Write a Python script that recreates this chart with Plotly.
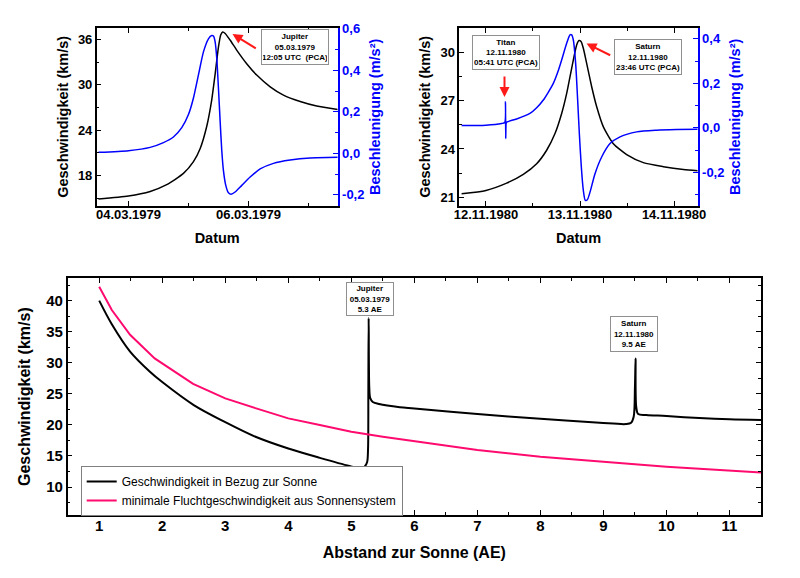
import plotly.graph_objects as go
import pandas as pd

W, H = 800, 578
FONT = "Liberation Sans, Arial, sans-serif"
BLUE = "#0000FF"
PINK = "#FF0A6E"
RED = "#FF1A1A"

# ---------------- Jupiter flyby (hours after 1979-03-04 00:00 UTC) ----------------
jup_ref = "1979-03-04 00:00"
jup_v_hours = [-12.0, 0.0, 8.7, 15.3, 22.0, 26.0, 28.7, 31.3, 33.3, 34.7, 36.0, 36.9, 37.7,
               38.7, 40.7, 43.3, 47.3, 51.3, 56.7, 62.0, 68.7, 75.3, 83.7]
jup_speed = [14.92, 15.3, 15.9, 16.8, 18.3, 19.85, 21.6, 24.5, 28.0, 31.5, 35.0, 36.6, 37.0,
             36.8, 35.9, 34.6, 32.8, 31.3, 29.75, 28.65, 27.8, 27.2, 26.75]
jup_a_hours = [-12.0, 0.0, 8.67, 14.0, 18.0, 21.33, 24.0, 26.0, 28.0, 30.0, 32.0, 33.33, 34.0,
               34.67, 35.33, 36.0, 36.67, 37.33, 38.0, 38.93, 40.0, 41.07, 42.67, 45.33, 48.67,
               52.67, 58.0, 64.67, 72.67, 83.73]
jup_accel = [0.005, 0.013, 0.029, 0.052, 0.079, 0.124, 0.187, 0.267, 0.378, 0.489, 0.552, 0.568,
             0.565, 0.537, 0.457, 0.314, 0.156, 0.013, -0.083, -0.154, -0.19, -0.197, -0.186,
             -0.154, -0.114, -0.075, -0.048, -0.032, -0.022, -0.019]

# ---------------- Saturn flyby (hours after 1980-11-12 00:00 UTC) ----------------
sat_ref = "1980-11-12 00:00"
sat_v_hours = [-6.21, 0.0, 5.28, 9.53, 12.94, 15.49, 17.62, 19.32, 20.6, 21.62, 22.47, 23.15,
               23.74, 24.26, 24.85, 25.7, 26.98, 28.26, 29.96, 32.51, 35.91, 40.17, 45.28,
               50.38, 54.04]
sat_speed = [21.21, 21.42, 21.875, 22.42, 23.08, 23.92, 24.96, 26.21, 27.46, 28.71, 29.75,
             30.48, 30.75, 30.69, 30.27, 29.33, 27.875, 26.625, 25.375, 24.33, 23.65, 23.15,
             22.9, 22.72, 22.64]
sat_a_hours = [-6.21, 0.0, 4.0, 4.8, 4.98, 5.05, 5.13, 5.22, 5.4, 7.83, 11.23, 12.94, 14.64,
               15.9, 17.19, 18.47, 19.32, 20.6, 21.45, 21.87, 22.3, 22.89, 23.4, 23.83, 24.34,
               24.85, 25.36, 25.87, 26.55, 27.83, 29.53, 31.66, 34.21, 38.47, 43.57, 48.68,
               54.04]
sat_accel = [0.0105, 0.012, 0.0195, 0.024, 0.117, -0.048, 0.018, 0.024, 0.027, 0.04, 0.0647,
             0.09, 0.125, 0.16, 0.2, 0.258, 0.305, 0.38, 0.418, 0.418, 0.395, 0.29, 0.125,
             -0.0256, -0.176, -0.281, -0.326, -0.323, -0.289, -0.206, -0.131, -0.0707,
             -0.0406, -0.018, -0.0105, -0.0075, -0.006]

# ---------------- Speed vs. distance from the Sun (AE) ----------------
dist_au = [1.0, 1.2, 1.49, 1.8, 2.0, 2.5, 3.0, 3.49, 4.0, 4.5, 4.97, 5.16, 5.21, 5.25,
           5.265, 5.27, 5.275, 5.285, 5.3, 5.34, 5.44, 5.77, 6.0, 7.0, 8.0, 8.94, 9.36,
           9.44, 9.48, 9.5, 9.51, 9.52, 9.55, 9.68, 10.0, 10.52, 11.0, 11.5]
helio_speed = [40.0, 36.2, 31.8, 28.6, 26.9, 23.2, 20.45, 18.05, 16.2, 14.7, 13.4, 13.0,
               13.27, 14.0, 16.0, 25.0, 37.2, 26.0, 24.3, 23.7, 23.36, 22.85, 22.66, 21.75,
               21.0, 20.35, 20.14, 20.35, 21.3, 26.15, 30.7, 22.93, 21.75, 21.6, 21.43, 21.1,
               20.9, 20.8]
esc_dist_au = [1.0, 1.2, 1.49, 1.88, 2.49, 3.0, 3.49, 4.0, 4.5, 5.0, 5.5, 6.0, 7.0, 8.0,
               8.94, 10.0, 11.5]
esc_speed = [42.25, 38.5, 34.5, 30.7, 26.6, 24.27, 22.66, 21.05, 19.98, 18.9, 18.1,
             17.4, 15.95, 14.88, 14.07, 13.27, 12.35]

# tick labels
jup_a_tickvals = [-0.2, 0.0, 0.2, 0.4, 0.6]
jup_a_ticktext = ["-0,2", "0,0", "0,2", "0,4", "0,6"]
sat_a_tickvals = [-0.2, 0.0, 0.2, 0.4]
sat_a_ticktext = ["-0,2", "0,0", "0,2", "0,4"]

legend_names = ["Geschwindigkeit in Bezug zur Sonne",
                "minimale Fluchtgeschwindigkeit aus Sonnensystem"]


def to_time(ref, hours):
    return pd.Timestamp(ref) + pd.to_timedelta(hours, unit="h")


fig = go.Figure()
fig.add_trace(go.Scatter(x=to_time(jup_ref, jup_v_hours), y=jup_speed, mode="lines",
                         line=dict(color="black", width=1.5, shape="spline", smoothing=0.6),
                         xaxis="x", yaxis="y", showlegend=False))
fig.add_trace(go.Scatter(x=to_time(jup_ref, jup_a_hours), y=jup_accel, mode="lines",
                         line=dict(color=BLUE, width=1.5, shape="spline", smoothing=0.6),
                         xaxis="x", yaxis="y2", showlegend=False))
fig.add_trace(go.Scatter(x=to_time(sat_ref, sat_v_hours), y=sat_speed, mode="lines",
                         line=dict(color="black", width=1.5, shape="spline", smoothing=0.6),
                         xaxis="x2", yaxis="y3", showlegend=False))
fig.add_trace(go.Scatter(x=to_time(sat_ref, sat_a_hours), y=sat_accel, mode="lines",
                         line=dict(color=BLUE, width=1.5, shape="spline", smoothing=0.7),
                         xaxis="x2", yaxis="y4", showlegend=False))
fig.add_trace(go.Scatter(x=dist_au, y=helio_speed, mode="lines", name=legend_names[0],
                         line=dict(color="black", width=2, shape="spline", smoothing=0.9),
                         xaxis="x3", yaxis="y5"))
fig.add_trace(go.Scatter(x=esc_dist_au, y=esc_speed, mode="lines", name=legend_names[1],
                         line=dict(color=PINK, width=2),
                         xaxis="x3", yaxis="y5"))


def px(v):
    return v / W


def py(v):
    return 1 - v / H


tickfont = dict(family=FONT, size=13, color="black", weight="bold")
titlefont = dict(family=FONT, size=14.5, color="black", weight="bold")

common_axis = dict(showline=True, linecolor="black", linewidth=1.5, ticks="inside",
                   ticklen=5, tickwidth=1.2, tickcolor="black", showgrid=False,
                   zeroline=False, tickfont=tickfont, automargin=False)

top_left_dom = [px(96.7), px(337.7)]
top_right_dom = [px(459.3), px(697.7)]
top_y_dom = [py(205.5), py(28.2)]

fig.update_layout(
    template="none",
    width=W, height=H, margin=dict(l=0, r=0, t=0, b=0, autoexpand=False),
    paper_bgcolor="white", plot_bgcolor="white",
    separators=",.",
    font=dict(family=FONT, color="black"),
    xaxis=dict(domain=top_left_dom, anchor="y", type="date",
               range=["1979-03-03 11:18", "1979-03-07 11:42"],
               tick0="1979-03-04", dtick=2 * 86400000, tickformat="%d.%m.%Y",
               mirror="ticks", ticklabelstandoff=-4,
               minor=dict(dtick=86400000, tick0="1979-03-04", ticks="inside", ticklen=3,
                          tickcolor="black"),
               title=dict(text="Datum", font=titlefont, standoff=12), **common_axis),
    yaxis=dict(domain=top_y_dom, anchor="x", range=[14.05, 37.5], tickvals=[18, 24, 30, 36],
               minor=dict(tickvals=[15, 21, 27, 33], ticks="inside", ticklen=3,
                          tickcolor="black"),
               title=dict(text="Geschwindigkeit (km/s)", font=titlefont, standoff=6),
               **common_axis),
    yaxis2=dict(domain=top_y_dom, anchor="x", overlaying="y", side="right",
                range=[-0.251, 0.603], tickvals=jup_a_tickvals, ticktext=jup_a_ticktext,
                showline=True, linecolor=BLUE, linewidth=1.5, ticks="inside", ticklen=5,
                tickwidth=1.2, tickcolor=BLUE, showgrid=False, zeroline=False,
                automargin=False,
                tickfont=dict(family=FONT, size=13, color=BLUE, weight="bold"),
                minor=dict(tickvals=[-0.1, 0.1, 0.3, 0.5], ticks="inside", ticklen=3,
                           tickcolor=BLUE),
                title=dict(text="Beschleunigung (m/s²)",
                           font=dict(family=FONT, size=14.5, color=BLUE, weight="bold"),
                           standoff=6)),
    xaxis2=dict(domain=top_right_dom, anchor="y3", type="date",
                range=["1980-11-11 17:12", "1980-11-14 06:02"],
                tick0="1980-11-12", dtick=86400000, tickformat="%d.%m.%Y",
                mirror="ticks", ticklabelstandoff=-4,
                minor=dict(dtick=43200000, tick0="1980-11-12", ticks="inside", ticklen=3,
                           tickcolor="black"),
                title=dict(text="Datum", font=titlefont, standoff=12), **common_axis),
    yaxis3=dict(domain=top_y_dom, anchor="x2", range=[20.48, 31.52], tickvals=[21, 24, 27, 30],
                minor=dict(tickvals=[22.5, 25.5, 28.5, 31.5], ticks="inside", ticklen=3,
                           tickcolor="black"),
                title=dict(text="Geschwindigkeit (km/s)", font=titlefont, standoff=6),
                **common_axis),
    yaxis4=dict(domain=top_y_dom, anchor="x2", overlaying="y3", side="right",
                range=[-0.349, 0.448], tickvals=sat_a_tickvals, ticktext=sat_a_ticktext,
                showline=True, linecolor=BLUE, linewidth=1.5, ticks="inside", ticklen=5,
                tickwidth=1.2, tickcolor=BLUE, showgrid=False, zeroline=False,
                automargin=False,
                tickfont=dict(family=FONT, size=13, color=BLUE, weight="bold"),
                minor=dict(tickvals=[-0.3, -0.1, 0.1, 0.3], ticks="inside", ticklen=3,
                           tickcolor=BLUE),
                title=dict(text="Beschleunigung (m/s²)",
                           font=dict(family=FONT, size=14.5, color=BLUE, weight="bold"),
                           standoff=6)),
    xaxis3=dict(domain=[px(67.7), px(761)], anchor="y5", range=[0.5, 11.5],
                tickvals=list(range(1, 12)), mirror="ticks", ticklabelstandoff=-4,
                minor=dict(dtick=0.5, tick0=0.5, ticks="inside", ticklen=3, tickcolor="black"),
                title=dict(text="Abstand zur Sonne (AE)",
                           font=dict(family=FONT, size=16, color="black", weight="bold"),
                           standoff=14),
                **{**common_axis, "tickfont": dict(family=FONT, size=15, color="black",
                                                    weight="bold")}),
    yaxis5=dict(domain=[py(515), py(278.3)], anchor="x3", range=[5.5, 43.6],
                tickvals=[10, 15, 20, 25, 30, 35, 40], mirror="ticks",
                minor=dict(dtick=2.5, tick0=0, ticks="inside", ticklen=3, tickcolor="black"),
                title=dict(text="Geschwindigkeit (km/s)",
                           font=dict(family=FONT, size=16, color="black", weight="bold"),
                           standoff=12),
                **{**common_axis, "tickfont": dict(family=FONT, size=15, color="black",
                                                    weight="bold")}),
    legend=dict(x=px(80.7), y=py(466), xanchor="left", yanchor="top",
                bgcolor="white", bordercolor="#808080", borderwidth=1,
                font=dict(family=FONT, size=12, color="black"),
                tracegroupgap=0, itemwidth=30),
)

boxfont = dict(family=FONT, size=8, color="black", weight="bold")


def box(text, cx, cy, w, h):
    fig.add_annotation(xref="paper", yref="paper", x=px(cx), y=py(cy), text=text,
                       showarrow=False, xanchor="center", yanchor="middle",
                       font=boxfont, bgcolor="white", bordercolor="#909090", borderwidth=1,
                       borderpad=1, width=w, height=h, align="center")


def arrow(tail, head):
    fig.add_annotation(xref="paper", yref="paper", x=px(head[0]), y=py(head[1]), text="",
                       showarrow=True, arrowhead=2, arrowsize=1, arrowwidth=2,
                       arrowcolor=RED, ax=tail[0] - head[0], ay=tail[1] - head[1])


box("Jupiter<br>05.03.1979<br>12:05 UTC  (PCA)", 294.5, 47.2, 64, 32)
arrow((257.3, 49.3), (232.5, 34.0))
box("Titan<br>12.11.1980<br>05:41 UTC (PCA)", 506.2, 52.5, 64, 31)
arrow((504.5, 75.0), (504.5, 97.0))
box("Saturn<br>12.11.1980<br>23:46 UTC (PCA)", 648.2, 57.2, 64, 32)
arrow((611.7, 56.0), (586.5, 43.5))
box("Jupiter<br>05.03.1979<br>5.3 AE", 369.5, 298.8, 44, 30)
box("Saturn<br>12.11.1980<br>9.5 AE", 634.0, 333.5, 44, 32)

fig.write_html("out.html", config={"displayModeBar": False},
               post_script="document.body.style.margin='0';document.body.style.overflow='hidden';")
